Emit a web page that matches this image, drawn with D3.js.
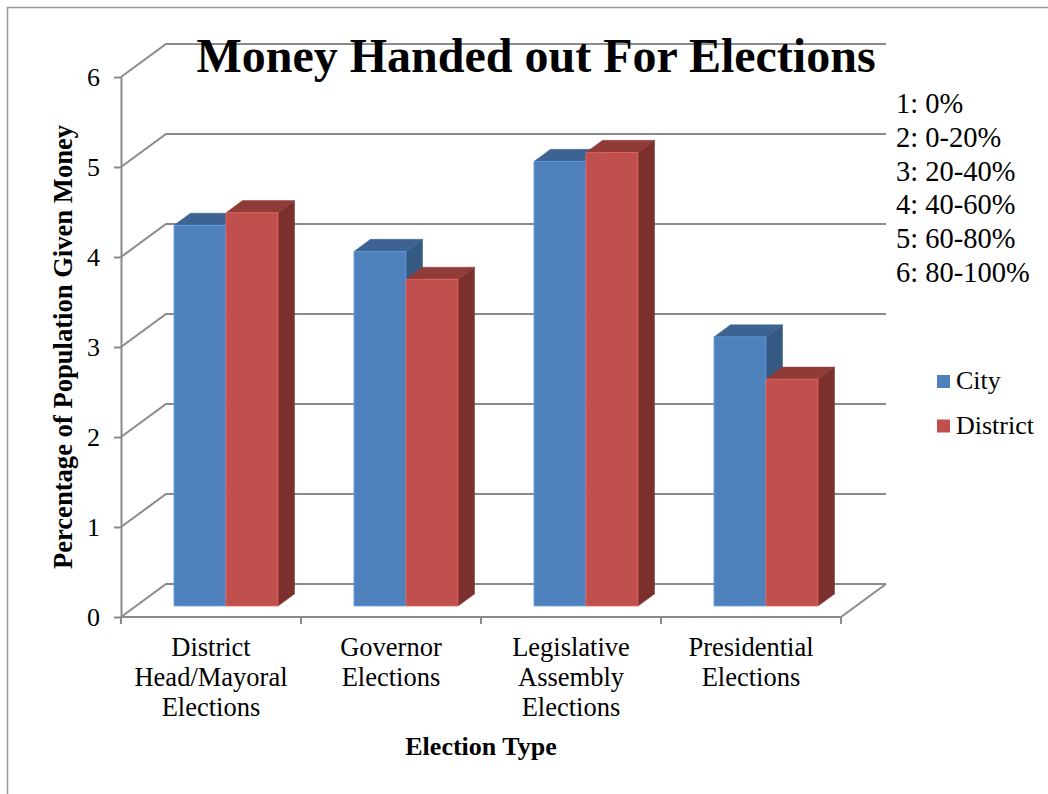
<!DOCTYPE html>
<html>
<head>
<meta charset="utf-8">
<script src="https://cdn.jsdelivr.net/npm/d3@7/dist/d3.min.js"></script>
<style>
  html, body { margin: 0; padding: 0; background: #fff; }
  svg { display: block; }
  text { font-family: "Liberation Serif", "Times New Roman", serif; fill: #000; }
</style>
</head>
<body>
<svg id="chart" width="1048" height="794"></svg>
<script>
// ---- data ----
const categories = ["District Head/Mayoral Elections", "Governor Elections", "Legislative Assembly Elections", "Presidential Elections"];
const categoryLines = [["District", "Head/Mayoral", "Elections"], ["Governor", "Elections"], ["Legislative", "Assembly", "Elections"], ["Presidential", "Elections"]];
const seriesNames = ["City", "District"];
const cityValues = [4.23, 3.94, 4.94, 2.99];
const districtValues = [4.37, 3.63, 5.04, 2.52];
const yTicks = [0, 1, 2, 3, 4, 5, 6];
const scaleNotes = ["1: 0%", "2: 0-20%", "3: 20-40%", "4: 40-60%", "5: 60-80%", "6: 80-100%"];
const titleText = "Money Handed out For Elections";
const xTitle = "Election Type";
const yTitle = "Percentage of Population Given Money";

// ---- setup ----
const svg = d3.select("#chart");
const FONT = '"Liberation Serif", "Times New Roman", serif';
const gridColor = "#8a8a8a";

const faceColors = {
  City: { front: "#4f81bd", top: "#3d6392", side: "#345a84" },
  District: { front: "#c0504d", top: "#913b39", side: "#7c302e" }
};

// front plane scales
const x = d3.scaleBand().domain(categories).range([121, 841]).paddingInner(0).paddingOuter(0);
const xs = d3.scaleBand().domain(seriesNames).range([38, 142]);
const y = d3.scaleLinear().domain([0, 6]).range([617, 77]);

// depth offset (oblique projection)
const DX = 45, DY = -33;
const proj = (xf, v, t) => [xf + DX * t, y(v) + DY * t];

// outer border
svg.append("path")
  .attr("d", "M7.5,800 L7.5,7.5 L1060,7.5")
  .attr("fill", "none").attr("stroke", "#9a9a9a").attr("stroke-width", 1.5);

const grid = svg.append("g").attr("stroke", gridColor).attr("stroke-width", 2).attr("fill", "none");
const x0 = x.range()[0], x1 = x.range()[1];

// back wall gridlines + left wall diagonals
yTicks.forEach(v => {
  const a = proj(x0, v, 0), b = proj(x0, v, 1), c = proj(x1, v, 1);
  grid.append("path").attr("d", `M${a[0]},${a[1]} L${b[0]},${b[1]} L${c[0]},${c[1]}`);
});
// floor right edge
{
  const a = proj(x1, 0, 0), b = proj(x1, 0, 1);
  grid.append("path").attr("d", `M${a[0]},${a[1]} L${b[0]},${b[1]}`);
}

// title (drawn over the top gridline)
svg.append("text")
  .attr("x", 536).attr("y", 72)
  .attr("text-anchor", "middle")
  .style("font-family", FONT).style("font-weight", "bold").style("font-size", "48px")
  .text(titleText);

// bars
const T0 = 0.333, T1 = 0.70;
const seriesData = [
  { name: "City", values: cityValues },
  { name: "District", values: districtValues }
];
const barsG = svg.append("g");
seriesData.forEach(s => {
  const col = faceColors[s.name];
  categories.forEach((cat, i) => {
    const v = s.values[i];
    const xa = x(cat) + xs(s.name), xb = xa + xs.bandwidth();
    const fTL = proj(xa, v, T0), fTR = proj(xb, v, T0), fBR = proj(xb, 0, T0), fBL = proj(xa, 0, T0);
    const bTL = proj(xa, v, T1), bTR = proj(xb, v, T1), bBR = proj(xb, 0, T1);
    const g = barsG.append("g");
    g.append("polygon").attr("points", [fTR, bTR, bBR, fBR].map(p => p.join(",")).join(" "))
      .attr("fill", col.side).attr("stroke", col.side).attr("stroke-width", 0.5);
    g.append("polygon").attr("points", [fTL, fTR, bTR, bTL].map(p => p.join(",")).join(" "))
      .attr("fill", col.top).attr("stroke", col.top).attr("stroke-width", 0.5);
    g.append("polygon").attr("points", [fTL, fTR, fBR, fBL].map(p => p.join(",")).join(" "))
      .attr("fill", col.front).attr("stroke", d3.color(col.front).brighter(0.6)).attr("stroke-width", 0.8);
  });
});

// y axis (front)
const yAxis = d3.axisLeft(y).tickValues(yTicks).tickSize(7).tickSizeOuter(0).tickPadding(14).tickFormat(d3.format("d"));
const yG = svg.append("g").attr("transform", `translate(${x0},0)`).call(yAxis);
yG.selectAll("path, line").attr("stroke", gridColor).attr("stroke-width", 2);
yG.selectAll("text").style("font-family", FONT).style("font-size", "26px").attr("dy", "0.34em").attr("fill", "#000");

// x axis (front floor edge) with ticks at category boundaries
const xG = svg.append("g");
xG.append("line").attr("x1", x0).attr("x2", x1).attr("y1", y(0)).attr("y2", y(0))
  .attr("stroke", gridColor).attr("stroke-width", 2);
const boundaries = categories.map(c => x(c)).concat([x1]);
xG.selectAll("line.tick").data(boundaries).join("line").attr("class", "tick")
  .attr("x1", d => d).attr("x2", d => d).attr("y1", y(0)).attr("y2", y(0) + 7)
  .attr("stroke", gridColor).attr("stroke-width", 2);

// category labels
categories.forEach((cat, i) => {
  const t = xG.append("text")
    .attr("x", x(cat) + x.bandwidth() / 2).attr("y", 656)
    .attr("text-anchor", "middle")
    .style("font-family", FONT).style("font-size", "26.5px");
  categoryLines[i].forEach((ln, j) => {
    t.append("tspan").attr("x", x(cat) + x.bandwidth() / 2).attr("dy", j === 0 ? 0 : 30).text(ln);
  });
});

// axis titles
svg.append("text")
  .attr("x", 481).attr("y", 755).attr("text-anchor", "middle")
  .style("font-family", FONT).style("font-weight", "bold").style("font-size", "26px")
  .text(xTitle);
svg.append("text")
  .attr("transform", "translate(72,347) rotate(-90)")
  .attr("text-anchor", "middle")
  .style("font-family", FONT).style("font-weight", "bold").style("font-size", "26.6px")
  .text(yTitle);

// scale notes
svg.append("g").selectAll("text").data(scaleNotes).join("text")
  .attr("x", 896).attr("y", (d, i) => 113 + i * 33.8)
  .style("font-family", FONT).style("font-size", "28.5px")
  .text(d => d);

// legend
const legend = svg.append("g");
seriesNames.forEach((n, i) => {
  legend.append("rect").attr("x", 937).attr("y", 375 + i * 44.5).attr("width", 13).attr("height", 13)
    .attr("fill", faceColors[n].front);
  legend.append("text").attr("x", 956).attr("y", 389 + i * 44.5)
    .style("font-family", FONT).style("font-size", "26px").text(n);
});
</script>
</body>
</html>
